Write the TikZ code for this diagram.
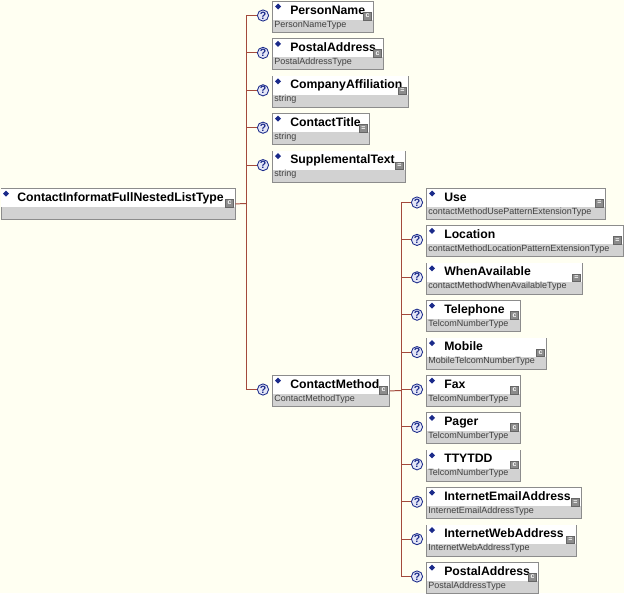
\documentclass[tikz,border=0pt]{standalone}
\usepackage{fontspec}
\newfontfamily\xsdfont{Liberation Sans}
\usetikzlibrary{positioning}
\definecolor{paper}{HTML}{FFFFF2}
\definecolor{linkred}{HTML}{A34A3C}
\definecolor{boxgray}{HTML}{D2D2D2}
\definecolor{boxline}{HTML}{8C8C8C}
\definecolor{navy}{HTML}{1A2A8A}
\definecolor{qfill}{HTML}{E4E6F6}

\begin{document}
\begin{tikzpicture}[x=0.025cm, y=-0.025cm,
	elem/.style={draw=boxline, line width=0.6pt, fill=boxgray, anchor=north west, inner sep=0pt, minimum height=0.775cm},
	lab/.style={anchor=base west, inner sep=0pt, font=\xsdfont\bfseries\fontsize{8.7}{10}\selectfont},
	typ/.style={anchor=base west, inner sep=0pt, text=black!75, font=\xsdfont\fontsize{6.4}{7}\selectfont},
	qmark/.style={circle, draw=navy, fill=qfill, line width=0.6pt, minimum size=0.28cm, inner sep=0pt, text=navy, font=\xsdfont\bfseries\fontsize{7.5}{8}\selectfont},
	kind/.style={draw=black!60, fill=black!45, minimum size=0.19cm, inner sep=0pt, text=white, font=\xsdfont\bfseries\fontsize{5}{5}\selectfont},
	wire/.style={draw=linkred, line width=0.7pt}
]
	\useasboundingbox[fill=paper] (0,0) rectangle (624,593);

	% root type
	\node[elem, minimum width=5.85cm] (root) at (0.5,188) {};
	\fill[white] (1,188.5) rectangle (234.5,207);
	\fill[navy] (6,190.5) -- (9,193.5) -- (6,196.5) -- (3,193.5) -- cycle;
	\node[lab] (root-lab) at (17,201) {ContactInformatFullNestedListType};
	\node[kind] (root-kind) at (229.5,203) {c};
	\coordinate (ja) at (246,203.5);
	\coordinate (jb) at (401,390.5);
	\draw[wire] (root.east) -- (ja);

	% children, a = first level, b = ContactMethod children
	\foreach \g/\x/\i/\w/\nm/\ty/\kd in {
		a/272/0/101/PersonName/PersonNameType/c,
		a/272/1/111/PostalAddress/PostalAddressType/c,
		a/272/2/136/CompanyAffiliation/string/=,
		a/272/3/97/ContactTitle/string/=,
		a/272/4/133/SupplementalText/string/=,
		a/272/10/117/ContactMethod/ContactMethodType/c,
		b/426/5/179/Use/contactMethodUsePatternExtensionType/=,
		b/426/6/197/Location/contactMethodLocationPatternExtensionType/=,
		b/426/7/156/WhenAvailable/contactMethodWhenAvailableType/=,
		b/426/8/94/Telephone/TelcomNumberType/c,
		b/426/9/120/Mobile/MobileTelcomNumberType/c,
		b/426/10/94/Fax/TelcomNumberType/c,
		b/426/11/94/Pager/TelcomNumberType/c,
		b/426/12/94/TTYTDD/TelcomNumberType/c,
		b/426/13/155/InternetEmailAddress/InternetEmailAddressType/=,
		b/426/14/150/InternetWebAddress/InternetWebAddressType/=,
		b/426/15/112/PostalAddress/PostalAddressType/c} {
		\node[elem, minimum width=\w*0.025cm] (\g\i) at (\x,1+37.4*\i) {};
		\fill[white] (\x+0.5,1.5+37.4*\i) rectangle (\x+\w-0.5,20+37.4*\i);
		\fill[navy] (\x+6,3.5+37.4*\i) -- (\x+9,6.5+37.4*\i) -- (\x+6,9.5+37.4*\i) -- (\x+3,6.5+37.4*\i) -- cycle;
		\node[lab] (\g\i-lab) at (\x+18,14+37.4*\i) {\nm};
		\node[typ] (\g\i-typ) at (\x+2,27+37.4*\i) {\ty};
		\node[kind] (\g\i-kind) at (\x+\w-5.5,16+37.4*\i) {\kd};
		\node[qmark] (q\g\i) at (\x-9,15.5+37.4*\i) {?};
		\draw[wire] (j\g) |- (q\g\i.west);
	}
	\draw[wire] (a10.east) -- (jb);
\end{tikzpicture}
\end{document}
